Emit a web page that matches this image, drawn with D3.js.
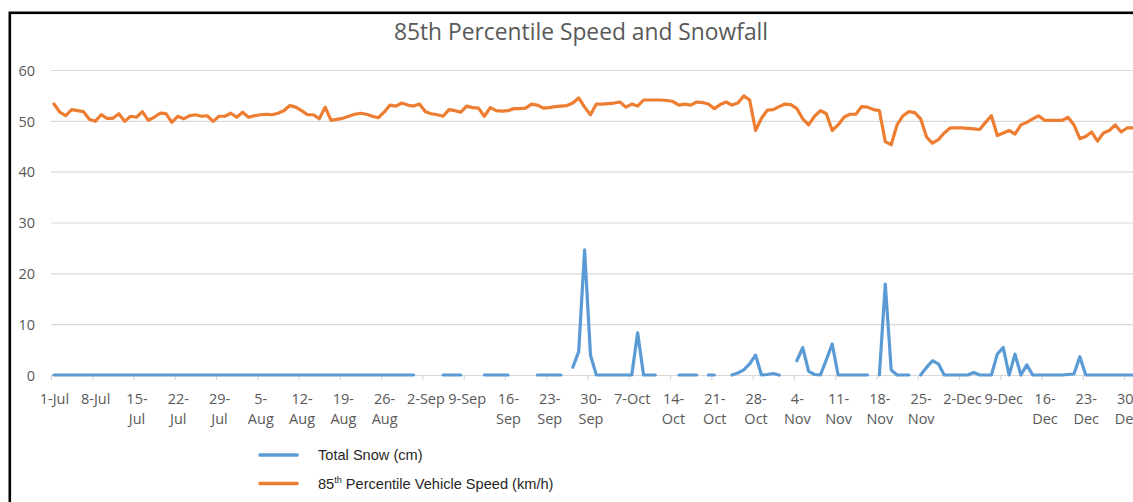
<!DOCTYPE html>
<html><head><meta charset="utf-8">
<script src="https://cdn.jsdelivr.net/npm/d3@7"></script>
<style>html,body{margin:0;padding:0;background:#fff;overflow:hidden}</style>
</head><body><svg id="c" width="1133" height="502"></svg>
<script>
// ---- data ----
const startDate = new Date(2018, 6, 1);
const dayCount = 184; // 1-Jul .. 31-Dec
const speed = [
 53.3,51.7,51.0,52.2,52.0,51.8,50.3,49.9,51.2,50.5,
 50.5,51.4,49.9,50.9,50.7,51.8,50.1,50.7,51.5,51.4,
 49.7,50.9,50.4,51.0,51.2,50.9,51.0,49.9,50.9,50.9,
 51.5,50.7,51.7,50.7,51.0,51.2,51.3,51.2,51.5,52.0,
 53.0,52.7,52.0,51.2,51.2,50.4,52.7,50.1,50.3,50.5,
 50.9,51.3,51.5,51.3,50.9,50.6,51.7,53.1,52.9,53.5,
 53.1,52.9,53.3,51.8,51.4,51.2,50.9,52.2,52.0,51.7,
 52.9,52.6,52.5,50.9,52.6,52.0,51.9,52.0,52.4,52.4,
 52.5,53.3,53.1,52.5,52.6,52.8,52.9,53.0,53.5,54.5,
 52.7,51.2,53.3,53.3,53.4,53.5,53.7,52.7,53.3,52.9,
 54.1,54.1,54.1,54.1,54.0,53.8,53.1,53.3,53.1,53.7,
 53.6,53.3,52.4,53.2,53.7,53.1,53.5,54.9,54.1,48.1,
 50.5,52.1,52.2,52.8,53.3,53.2,52.4,50.4,49.2,50.9,
 52.0,51.4,48.1,49.2,50.7,51.3,51.3,52.8,52.7,52.2,
 52.0,45.9,45.3,49.2,51.0,51.8,51.6,50.4,46.8,45.6,
 46.3,47.6,48.6,48.6,48.6,48.5,48.4,48.3,49.7,51.0,
 47.1,47.6,48.1,47.4,49.2,49.7,50.4,51.0,50.1,50.1,
 50.1,50.1,50.7,49.2,46.5,46.9,47.8,46.0,47.6,48.1,
 49.2,47.8,48.6,48.6
];
const snow = [
 0,0,0,0,0,0,0,0,0,0,
 0,0,0,0,0,0,0,0,0,0,
 0,0,0,0,0,0,0,0,0,0,
 0,0,0,0,0,0,0,0,0,0,
 0,0,0,0,0,0,0,0,0,0,
 0,0,0,0,0,0,0,0,0,0,
 0,0,null,null,null,null,0,0,0,0,
 null,null,null,0,0,0,0,0,null,null,
 null,null,0,0,0,0,0,null,1.5,4.6,
 24.6,3.9,0,0,0,0,0,0,0,8.3,
 0,0,0,null,null,null,0,0,0,0,
 null,0,0,null,null,0,0.4,1.0,2.2,3.9,
 0,0.1,0.3,0,null,null,2.8,5.4,0.7,0.1,
 0,3.0,6.1,0,0,0,0,0,0,null,
 0,17.9,1.0,0,0,0,null,0,1.5,2.8,
 2.2,0,0,0,0,0,0.5,0,0,0,
 4.1,5.4,0,4.1,0,2.0,0,0,0,0,
 0,0,0.1,0.2,3.6,0,0,0,0,0,
 0,0,0,0
];
const tickLabels = [
 ["1-Jul"],["8-Jul"],["15-","Jul"],["22-","Jul"],["29-","Jul"],["5-","Aug"],["12-","Aug"],["19-","Aug"],["26-","Aug"],
 ["2-Sep"],["9-Sep"],["16-","Sep"],["23-","Sep"],["30-","Sep"],["7-Oct"],["14-","Oct"],["21-","Oct"],["28-","Oct"],
 ["4-","Nov"],["11-","Nov"],["18-","Nov"],["25-","Nov"],["2-Dec"],["9-Dec"],["16-","Dec"],["23-","Dec"],["30-","Dec"]
];
const yTicks = [0,10,20,30,40,50,60];
const titleText = "85th Percentile Speed and Snowfall";
const seriesNames = ["Total Snow (cm)", "85th Percentile Vehicle Speed (km/h)"];
const colors = ["#5B9BD5", "#ED7D31"];

// ---- layout ----
const svg = d3.select("#c");
svg.append("rect").attr("width",1133).attr("height",502).attr("fill","#fff");
svg.append("rect").attr("x",9.8).attr("y",12.8).attr("width",1200).attr("height",600)
  .attr("fill","none").attr("stroke","#000").attr("stroke-width",2.6);

const dates = d3.range(dayCount).map(i => d3.timeDay.offset(startDate, i));
const x0 = 51, dayW = 5.896;
const x = d3.scaleLinear().domain([0, dayCount]).range([x0, x0 + dayCount*dayW]);
const y = d3.scaleLinear().domain([0, 60]).range([375, 70]);

// gridlines
svg.append("g").selectAll("line").data(yTicks).join("line")
  .attr("x1", x0).attr("x2", 1140)
  .attr("y1", d => y(d)+0.5).attr("y2", d => y(d)+0.5)
  .attr("stroke", "#d9d9d9").attr("stroke-width", 1.2);

// y labels
const yAxis = d3.axisLeft(y).tickValues(yTicks).tickSize(0).tickPadding(0);
const gy = svg.append("g").attr("transform","translate(35,0)").call(yAxis);
gy.select(".domain").remove();
gy.selectAll("text").attr("font-family","'Open Sans'").attr("font-size","14.5px").attr("fill","#595959").attr("dy","0.36em");

// x tick marks
const tickIdx = d3.range(0, dayCount, 7);
const gxt = svg.append("g").attr("transform","translate(0,375)")
  .call(d3.axisBottom(x).tickValues(tickIdx).tickSize(5).tickFormat(""));
gxt.select(".domain").remove();
gxt.selectAll("line").attr("stroke","#d9d9d9").attr("stroke-width",1.2);

// x labels
const gxl = svg.append("g").attr("transform","translate(0,375)")
  .call(d3.axisBottom(x).tickValues(tickIdx.map(d => d + 0.5)).tickSize(0).tickFormat(""));
gxl.select(".domain").remove();
gxl.selectAll(".tick").each(function(d, i) {
  const t = d3.select(this).append("text")
    .attr("font-family","'Open Sans'").attr("font-size","14.5px").attr("fill","#595959")
    .attr("text-anchor","middle");
  tickLabels[i].forEach((s, k) => {
    t.append("tspan").attr("x", 0).attr("y", 29 + k*20).text(s);
  });
});

// lines
const line = d3.line()
  .defined(d => d != null)
  .x((d, i) => x(i + 0.5))
  .y(d => y(d));
svg.append("path").datum(snow).attr("d", line)
  .attr("fill","none").attr("stroke",colors[0]).attr("stroke-width",3.2)
  .attr("stroke-linejoin","round").attr("stroke-linecap","round");
svg.append("path").datum(speed).attr("d", line)
  .attr("fill","none").attr("stroke",colors[1]).attr("stroke-width",3.2)
  .attr("stroke-linejoin","round").attr("stroke-linecap","round");

// title
svg.append("text").attr("x",581).attr("y",39.5).attr("text-anchor","middle")
  .attr("font-family","'Open Sans'").attr("font-size","22.8px").attr("fill","#595959")
  .text(titleText);

// legend
const lg = svg.append("g");
const legY = [455, 483.5];
seriesNames.forEach((name, i) => {
  lg.append("line").attr("x1",260).attr("x2",297).attr("y1",legY[i]).attr("y2",legY[i])
    .attr("stroke",colors[i]).attr("stroke-width",3.6).attr("stroke-linecap","round");
  const t = lg.append("text").attr("x",318).attr("y",legY[i]+5)
    .attr("font-family","'Liberation Sans', Arial").attr("font-size","14.6px").attr("fill","#262626");
  if (i === 1) {
    t.append("tspan").text("85");
    t.append("tspan").attr("font-size","9px").attr("dy","-6").text("th");
    t.append("tspan").attr("dy","6").text(" Percentile Vehicle Speed (km/h)");
  } else {
    t.text(name);
  }
});
</script></body></html>
